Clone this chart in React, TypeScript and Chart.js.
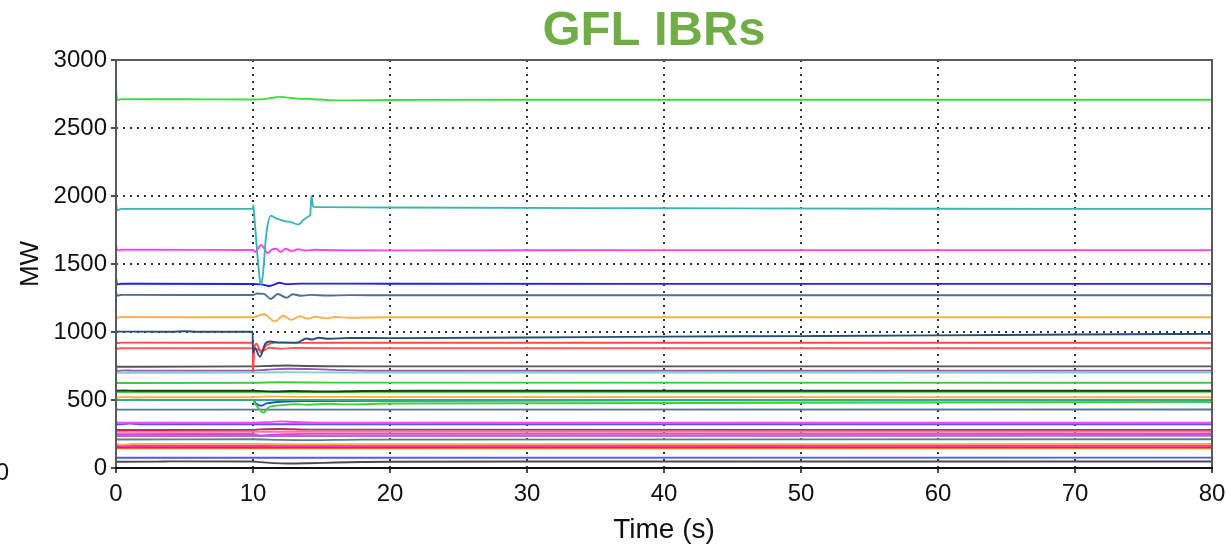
import React, { useEffect, useRef } from "react";
import { Chart, registerables } from "chart.js";
Chart.register(...registerables);

const TITLE = "GFL IBRs";
const X_LABEL = "Time (s)";
const Y_LABEL = "MW";
const X_TICKS = [0, 10, 20, 30, 40, 50, 60, 70, 80];
const Y_TICKS = [0, 500, 1000, 1500, 2000, 2500, 3000];
const CUT_LABEL = "0";

// Each series: [time (s), MW]
const s01 = [[0,2790],[0.08,2706],[0.4,2712],[5,2711],[10,2710],[10.8,2712],[11.4,2722],[12,2729],[12.6,2723],[13.3,2716],[14.2,2713],[15.5,2705],[17,2703],[19,2704],[22,2707],[30,2708],[50,2708],[80,2708]];
const s02 = [[0,1955],[0.08,1896],[0.4,1905],[5,1905],[9.98,1905],[10.03,1930],[10.08,1870],[10.2,1720],[10.4,1480],[10.56,1352],[10.72,1420],[10.95,1700],[11.3,1855],[11.7,1835],[12.3,1815],[12.8,1808],[13.3,1790],[13.7,1825],[14.05,1850],[14.18,1865],[14.26,2000],[14.4,1920],[15,1918],[20,1915],[40,1910],[60,1906],[80,1905]];
const s03 = [[0,1648],[0.08,1600],[0.4,1605],[5,1604],[9.98,1603],[10.15,1588],[10.35,1612],[10.6,1640],[10.85,1610],[11.05,1580],[11.4,1608],[11.7,1612],[12.0,1590],[12.4,1612],[12.8,1595],[13.3,1608],[13.8,1599],[14.5,1605],[16,1601],[20,1600],[40,1602],[80,1602]];
const s04 = [[0,1402],[0.08,1350],[0.4,1355],[10,1353],[10.6,1350],[11.2,1338],[11.6,1350],[11.9,1362],[12.4,1352],[13.5,1356],[20,1355],[40,1354],[80,1354]];
const s05 = [[0,1298],[0.08,1268],[0.4,1273],[10,1272],[10.3,1283],[10.8,1280],[11.3,1243],[11.8,1279],[12.45,1252],[12.9,1278],[13.5,1266],[14.2,1273],[15.5,1268],[17,1271],[20,1270],[80,1270]];
const s06 = [[0,1132],[0.08,1104],[0.4,1110],[10,1108],[10.3,1116],[10.8,1130],[11.6,1078],[12.2,1120],[12.8,1090],[13.4,1116],[14,1098],[14.6,1112],[15.3,1102],[16,1110],[17,1105],[20,1108],[80,1108]];
const s07 = [[0,1003],[4,1002],[5,1005],[6,1002],[9.97,1002],[10.0,845],[10.15,880],[10.5,818],[10.9,915],[11.25,930],[12,922],[13.2,922],[13.9,952],[14.3,945],[14.8,958],[15.5,950],[17,956],[20,955],[30,960],[40,966],[50,970],[60,975],[70,982],[80,986]];
const s08 = [[0,935],[0.08,918],[0.4,922],[9.98,921],[10.0,708],[10.08,868],[10.25,914],[10.6,848],[10.9,895],[11.3,916],[12,924],[13,920],[20,921],[80,921]];
const s09 = [[0,895],[0.08,877],[0.4,881],[10,880],[10.3,872],[10.7,862],[11.2,884],[12,877],[13,882],[20,880],[80,880]];
const s10 = [[0,758],[0.08,745],[10,747],[11,750],[12.5,754],[14,750],[20,747],[80,747]];
const s11 = [[0,738],[0.08,714],[0.6,718],[1.2,716],[10,716],[11,722],[12.5,730],[14.5,727],[16.5,720],[20,716],[80,716]];
const s12 = [[0,712],[0.08,700],[10,701],[12,704],[16,702],[80,701]];
const s13 = [[0,642],[0.08,625],[10,627],[12,630],[16,628],[80,627]];
const s14 = [[0,582],[0.08,568],[0.5,570],[1.5,568],[10,568],[11.5,563],[13,566],[15,562],[18,566],[22,568],[80,568]];
const s15 = [[0,574],[0.08,559],[80,560]];
const s16 = [[0,532],[0.08,518],[0.6,522],[1.5,520],[10,520],[11,526],[13,523],[80,520]];
const s17 = [[0,512],[0.08,499],[1.5,502],[3,500],[80,500]];
const s18 = [[0,506],[0.08,500],[10,500],[10.1,482],[10.4,440],[10.75,407],[11.2,450],[12.2,462],[13,470],[14,465],[15.5,472],[17,468],[20,474],[30,476],[50,480],[60,482],[80,485]];
const s19 = [[0,505],[0.08,499],[10,500],[10.2,476],[10.6,458],[11,475],[11.6,483],[12.5,489],[14,492],[20,495],[40,497],[80,497]];
const s20 = [[0,441],[0.08,429],[80,430]];
const s21 = [[0,346],[0.08,333],[10,333],[11,336],[12,343],[13,338],[15,334],[80,333]];
const s22 = [[0,332],[0.08,320],[1,326],[2,322],[80,322]];
const s23 = [[0,292],[0.08,279],[10,280],[10.5,284],[12,287],[14,282],[80,280]];
const s24 = [[0,276],[0.08,266],[80,267]];
const s25 = [[0,262],[0.08,249],[10,250],[10.5,240],[11.2,243],[12.2,248],[14,251],[80,250]];
const s26 = [[0,246],[0.08,235],[80,236]];
const s27 = [[0,218],[0.08,210],[10,211],[12,207],[14,205],[18,209],[80,211]];
const s28 = [[0,186],[0.08,176],[0.5,172],[1.2,176],[10,177],[12,175],[80,177]];
const s29 = [[0,170],[0.08,162],[80,163]];
const s30 = [[0,158],[0.08,151],[80,152]];
const s31 = [[0,150],[0.08,144],[80,145]];
const s32 = [[0,82],[0.08,75],[80,76]];
const s33 = [[0,52],[0.08,46],[3,47],[4,49],[10,48],[10.5,43],[11.5,36],[12.5,33],[14,35],[16,40],[18,44],[20,46],[30,48],[80,48]];

const SERIES = [s01,s02,s03,s04,s05,s06,s07,s08,s09,s10,s11,s12,s13,s14,s15,s16,s17,s18,s19,s20,s21,s22,s23,s24,s25,s26,s27,s28,s29,s30,s31,s32,s33];
const COLORS = [
  "#3ddc3d","#3cb4b4","#ff40ff","#2020f0","#50708f","#ffb04d","#284c74","#ff4848","#ff5a5a",
  "#555555","#9b59b6","#80d0d0","#3ccc3c","#1d3d1d","#44cc44","#ffb347","#33aa88","#3cd03c",
  "#2450d8","#5a7896","#ff44ff","#5b50ff","#c8245c","#ff6eb4","#e044e0","#a672d2","#5f7a95",
  "#ffac48","#ff2bc8","#ff1c1c","#ff9a30","#5353ff","#4a4a4a"
];

const FONT = "'Liberation Sans', Arial, sans-serif";

const framePlugin = {
  id: "frame",
  afterDatasetsDraw(chart: any) {
    const { ctx, chartArea: a } = chart;
    ctx.save();
    ctx.lineWidth = 2;
    ctx.strokeStyle = "#5a5a5a";
    ctx.beginPath();
    ctx.moveTo(a.left, a.bottom);
    ctx.lineTo(a.left, a.top);
    ctx.lineTo(a.right, a.top);
    ctx.lineTo(a.right, a.bottom);
    ctx.stroke();
    ctx.strokeStyle = "#111";
    ctx.beginPath();
    ctx.moveTo(a.left - 1, a.bottom);
    ctx.lineTo(a.right + 1, a.bottom);
    ctx.stroke();
    ctx.restore();
  },
  afterDraw(chart: any) {
    const { ctx } = chart;
    ctx.save();
    ctx.fillStyle = "#70ad47";
    ctx.font = `bold 49px ${FONT}`;
    ctx.textAlign = "center";
    ctx.textBaseline = "alphabetic";
    ctx.fillText(TITLE, 654, 45);
    ctx.fillStyle = "#111";
    ctx.font = `24px ${FONT}`;
    ctx.textAlign = "right";
    ctx.textBaseline = "middle";
    ctx.fillText(CUT_LABEL, 9, 473);
    ctx.restore();
  },
};

export default function App() {
  const ref = useRef<HTMLCanvasElement>(null);
  useEffect(() => {
    if (!ref.current) return;
    const chart = new Chart(ref.current, {
      type: "line",
      data: {
        datasets: SERIES.map((s, i) => ({
          data: s.map(([x, y]) => ({ x, y })),
          borderColor: COLORS[i],
          borderWidth: 1.9,
          pointRadius: 0,
          fill: false,
          cubicInterpolationMode: "monotone" as const,
        })),
      },
      options: {
        animation: false,
        responsive: false,
        events: [],
        layout: { padding: { top: 60, right: 14, bottom: 0, left: 0 } },
        plugins: { legend: { display: false }, tooltip: { enabled: false }, title: { display: false } },
        scales: {
          x: {
            type: "linear",
            min: 0,
            max: 80,
            afterBuildTicks: (s: any) => { s.ticks = X_TICKS.map((v) => ({ value: v })); },
            afterFit: (s: any) => { s.height = 81; s.paddingLeft = 0; s.paddingRight = 0; },
            grid: {
              color: (c: any) => (c.tick && (c.tick.value === 0 || c.tick.value === 80) ? "rgba(0,0,0,0)" : "#333"),
              lineWidth: 2,
              tickColor: "#111",
              tickWidth: 1.5,
              tickLength: 5,
              tickBorderDash: [],
            },
            border: { display: false, dash: [2, 5] },
            ticks: { color: "#111", font: { family: FONT, size: 24 }, padding: 7, maxRotation: 0, autoSkip: false, callback: (v: any) => String(v) },
            title: { display: true, text: X_LABEL, color: "#111", font: { family: FONT, size: 28 }, padding: { top: 0, bottom: 2 } },
          },
          y: {
            type: "linear",
            min: 0,
            max: 3000,
            afterBuildTicks: (s: any) => { s.ticks = Y_TICKS.map((v) => ({ value: v })); },
            afterFit: (s: any) => { s.width = 116; },
            grid: {
              color: (c: any) => (c.tick && (c.tick.value === 0 || c.tick.value === 3000) ? "rgba(0,0,0,0)" : "#333"),
              lineWidth: 2,
              tickColor: "#111",
              tickWidth: 1.5,
              tickLength: 5,
              tickBorderDash: [],
            },
            border: { display: false, dash: [2, 5] },
            ticks: { color: "#111", font: { family: FONT, size: 24 }, padding: 4, autoSkip: false, callback: (v: any) => String(v) },
            title: { display: true, text: Y_LABEL, color: "#111", font: { family: FONT, size: 26 }, padding: { top: 15, bottom: 0 } },
          },
        },
      },
      plugins: [framePlugin],
    });
    return () => chart.destroy();
  }, []);
  return (
    <div style={{ position: "fixed", left: 0, top: 0, width: 1226, height: 549, background: "#fff" }}>
      <canvas ref={ref} width={1226} height={549} style={{ display: "block" }} />
    </div>
  );
}
